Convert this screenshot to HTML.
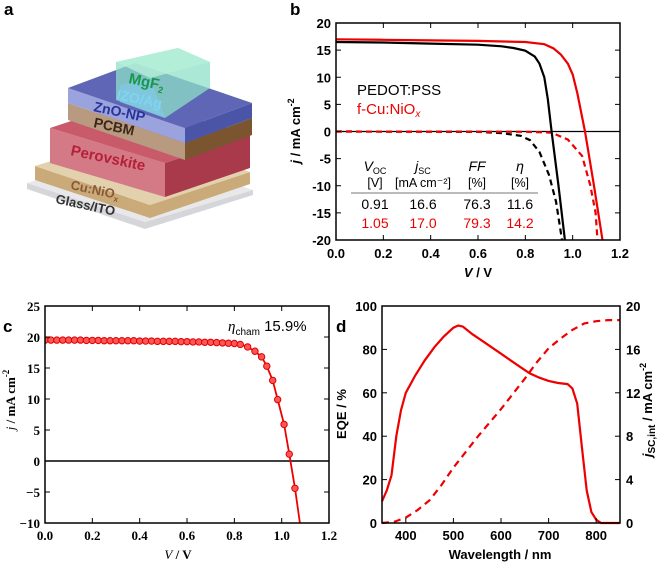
<!DOCTYPE html>
<html><head><meta charset="utf-8"><style>
html,body{margin:0;padding:0;background:#fff;}
svg{display:block;font-family:"Liberation Sans",sans-serif;}
.tk{font-weight:bold;font-size:13px;}
.sf{font-family:"Liberation Serif",serif;font-weight:bold;font-size:13px;}
</style></head><body>
<svg id="fig" width="664" height="566" viewBox="0 0 664 566" xmlns="http://www.w3.org/2000/svg">
<!-- panel labels -->
<text x="4" y="15" font-size="17" font-weight="bold">a</text>
<text x="290" y="15" font-size="17" font-weight="bold">b</text>
<text x="3" y="332" font-size="17" font-weight="bold">c</text>
<text x="336" y="332" font-size="17" font-weight="bold">d</text>

<!-- panel a schematic -->
<g id="schematic">
  <polygon points="27,183 145,222 253,190 253,195 145,229 27,189" fill="#d4d6d9"/>
  <polygon points="27,183 135,150 253,190 145,222" fill="#e8e8ea"/>
  <polygon points="35,166 150,205 250,172 250,184 150,218 35,180" fill="#c9aa78"/>
  <polygon points="35,166 140,134 250,172 150,205" fill="#e3d0ad"/>
  <polygon points="50,128 165,163 165,197 50,163" fill="#d47a86"/>
  <polygon points="165,163 250,135 250,168 165,197" fill="#a83a4c"/>
  <polygon points="50,128 135,100 250,135 165,163" fill="#c85a6a"/>
  <polygon points="68,103 185,143 185,160 68,120" fill="#b89a80"/>
  <polygon points="185,143 252,118 252,135 185,160" fill="#7a5530"/>
  <polygon points="68,88 185,128 185,143 68,103" fill="#9aa3dd"/>
  <polygon points="185,128 252,103 252,118 185,143" fill="#4a55a8"/>
  <polygon points="68,88 135,63 252,103 185,128" fill="#5e66b5"/>
  <polygon points="116,62 178,48 210,62 210,88 165,118 116,100" fill="#8fe0c8" opacity="0.75"/>
  <polygon points="116,62 178,48 210,62 150,78" fill="#b5efd9" opacity="0.8"/>
  <polygon points="120,85 150,78 165,118 120,102" fill="#7fc8e8" opacity="0.7"/>
  <text x="128" y="83" font-size="15" font-weight="bold" fill="#18994a" transform="rotate(12 128 83)">MgF<tspan font-size="9" dy="3">2</tspan></text>
  <text x="116" y="99" font-size="14" font-weight="bold" fill="#7fd4f4" transform="rotate(12 116 99)">IZO/Ag</text>
  <text x="93" y="111" font-size="14" font-weight="bold" fill="#28339a" transform="rotate(12 93 111)">ZnO-NP</text>
  <text x="93" y="127" font-size="14" font-weight="bold" fill="#3a2818" transform="rotate(12 93 127)">PCBM</text>
  <text x="70" y="155" font-size="15" font-weight="bold" fill="#b52038" transform="rotate(12 70 155)">Perovskite</text>
  <text x="70" y="189" font-size="13" font-weight="bold" fill="#8a5a3a" transform="rotate(12 70 189)">Cu:NiO<tspan font-size="8" dy="3">x</tspan></text>
  <text x="55" y="203" font-size="13" font-weight="bold" fill="#333" transform="rotate(12 55 203)">Glass/ITO</text>
</g>

<!-- panel b static text -->
<text x="300" y="131" class="tk" font-size="14" text-anchor="middle" transform="rotate(-90 300 131)"><tspan font-style="italic">j</tspan> / mA cm<tspan font-size="9" dy="-6">-2</tspan></text>
<text x="478" y="277" class="tk" font-size="14" text-anchor="middle"><tspan font-style="italic">V</tspan> / V</text>
<text x="357" y="95" font-size="15" fill="#000">PEDOT:PSS</text>
<text x="357" y="114" font-size="15" fill="#e00">f-Cu:NiO<tspan font-style="italic" font-size="10" dy="3">x</tspan></text>
<g font-size="12.5" text-anchor="middle">
  <text x="375" y="171" font-size="14"><tspan font-style="italic">V</tspan><tspan font-size="9" dy="3">OC</tspan></text>
  <text x="423" y="171" font-size="14"><tspan font-style="italic">j</tspan><tspan font-size="9" dy="3">SC</tspan></text>
  <text x="477" y="171" font-size="14" font-style="italic">FF</text>
  <text x="520" y="171" font-size="14" font-style="italic">η</text>
  <text x="375" y="187">[V]</text>
  <text x="423" y="187">[mA cm⁻²]</text>
  <text x="477" y="187">[%]</text>
  <text x="520" y="187">[%]</text>
  <line x1="351" y1="193" x2="538" y2="193" stroke="#777" stroke-width="1"/>
  <text x="375" y="209" font-size="14">0.91</text><text x="423" y="209" font-size="14">16.6</text><text x="477" y="209" font-size="14">76.3</text><text x="520" y="209" font-size="14">11.6</text>
  <g fill="#e00" font-size="14"><text x="375" y="228">1.05</text><text x="423" y="228">17.0</text><text x="477" y="228">79.3</text><text x="520" y="228">14.2</text></g>
</g>

<!-- panel c static -->
<text x="15" y="400" class="sf" font-size="14" text-anchor="middle" transform="rotate(-90 15 400)"><tspan font-style="italic" font-weight="normal">j</tspan> / mA cm<tspan font-size="9" dy="-6">-2</tspan></text>
<text x="178" y="559" class="sf" font-size="14" text-anchor="middle"><tspan font-style="italic" font-weight="normal">V</tspan> / V</text>
<text x="228" y="331" font-size="15"><tspan font-style="italic" font-family="Liberation Serif">η</tspan><tspan font-size="10" dy="4">cham</tspan><tspan dy="-4"> 15.9%</tspan></text>

<!-- panel d static -->
<text x="346" y="414" class="tk" font-size="15" text-anchor="middle" transform="rotate(-90 346 414)">EQE / %</text>
<text x="652" y="410" class="tk" font-size="15" text-anchor="middle" transform="rotate(-90 652 410)"><tspan font-style="italic">j</tspan><tspan font-size="10" dy="3">SC,int</tspan><tspan dy="-3"> / mA cm</tspan><tspan font-size="9" dy="-6">-2</tspan></text>
<text x="500" y="559" class="tk" font-size="15" text-anchor="middle">Wavelength / nm</text>

<g id="dyn"></g>
</svg>
<script>
// ---- panel b data ----
const bBlackV = [0,0.2,0.4,0.6,0.7,0.75,0.8,0.84,0.86,0.88,0.895,0.911,0.94,0.967];
const bBlackJ = [16.5,16.4,16.2,16.0,15.7,15.4,14.9,13.8,12.5,10,6,0,-10,-20];
const bRedV = [0,0.2,0.4,0.6,0.8,0.88,0.92,0.95,0.98,1.0,1.02,1.052,1.09,1.126];
const bRedJ = [17.0,16.9,16.8,16.7,16.5,16.1,15.3,14.2,12.5,10.5,7,0,-10,-20];
const bBlackDarkV = [0,0.6,0.7,0.78,0.82,0.86,0.9,0.93,0.955];
const bBlackDarkJ = [0,-0.05,-0.3,-0.8,-1.6,-3.8,-8,-13,-20];
const bRedDarkV = [0,0.8,0.91,0.98,1.04,1.075,1.097,1.105];
const bRedDarkJ = [0,-0.05,-0.2,-1.5,-4.5,-10,-15,-20];
const bXTicks = [0,0.2,0.4,0.6,0.8,1.0,1.2];
const bYTicks = [20,15,10,5,0,-5,-10,-15,-20];
// ---- panel c data ----
const cV = [0,0.025,0.05,0.075,0.1,0.125,0.15,0.175,0.2,0.225,0.25,0.275,0.3,0.325,0.35,0.375,0.4,0.425,0.45,0.475,0.5,0.525,0.55,0.575,0.6,0.625,0.65,0.675,0.7,0.725,0.75,0.775,0.8,0.825,0.856,0.887,0.915,0.937,0.962,0.983,1.01,1.032,1.056];
const cJ = [19.5,19.5,19.5,19.5,19.5,19.5,19.5,19.45,19.45,19.45,19.4,19.4,19.4,19.4,19.4,19.4,19.35,19.35,19.35,19.3,19.3,19.3,19.3,19.25,19.25,19.2,19.2,19.15,19.15,19.1,19.05,19.0,18.95,18.8,18.4,17.7,16.8,15.3,13.0,9.9,5.9,1.1,-4.4];
const cLineEndV = [1.056,1.077];
const cLineEndJ = [-4.4,-10];
const cXTicks = [0,0.2,0.4,0.6,0.8,1.0,1.2];
const cYTicks = [25,20,15,10,5,0,-5,-10];
// ---- panel d data ----
const dEqeW = [350,360,370,380,390,400,420,440,460,480,500,510,520,540,560,580,600,620,640,660,680,700,720,740,750,760,770,780,790,800,810,850];
const dEqe = [10,15,22,40,52,60,68,75,81,86,90,91,90.5,87,84,81,78,75,72,69,67,65.5,64.5,64,62,55,35,15,5,1.5,0,0];
const dJscW = [350,375,400,425,450,475,500,525,550,575,600,625,650,675,700,725,750,775,800,825,850];
const dJsc = [0,0.1,0.5,1.2,2.1,3.5,5.1,6.5,7.9,9.2,10.5,11.9,13.3,14.8,16.1,17.0,17.8,18.4,18.6,18.7,18.7];
const dXTicks = [400,500,600,700,800];
const dYTicks = [0,20,40,60,80,100];
const dY2Ticks = [0,4,8,12,16,20];

const NS = "http://www.w3.org/2000/svg";
const root = document.getElementById("dyn");
function mk(tag, a, parent){ const e=document.createElementNS(NS,tag); for(const k in a) e.setAttribute(k,a[k]); (parent||root).appendChild(e); return e; }

// axis functions
const xb = v => 336 + v/1.2*284;
const yb = j => 131.5 - j*5.425;
const xc = v => 45 + v*236.7;
const yc = j => 306 + (25-j)*6.2;
const xd = w => 382 + (w-350)*0.476;
const yd = e => 523 - e*2.17;
const yd2 = j => 523 - j*10.85;

function path(xs, ys, fx, fy){ return xs.map((x,i)=>(i?"L":"M")+fx(x).toFixed(1)+","+fy(ys[i]).toFixed(1)).join(""); }

// ---------- panel b ----------
const cpB = mk("clipPath",{id:"clipB"}); mk("rect",{x:336,y:23,width:284,height:217},cpB);
let e;
e = mk("line",{x1:336,y1:yb(0),x2:620,y2:yb(0),stroke:"#000","stroke-width":1.3});


const gB = mk("g",{"clip-path":"url(#clipB)",fill:"none","stroke-width":2.2});
e = mk("path",{d:path(bBlackDarkV,bBlackDarkJ,xb,yb),stroke:"#000","stroke-dasharray":"6,4"},gB);


e = mk("path",{d:path(bRedDarkV,bRedDarkJ,xb,yb),stroke:"#e00","stroke-dasharray":"6,4"},gB);


e = mk("path",{d:path(bBlackV,bBlackJ,xb,yb),stroke:"#000"},gB);


e = mk("path",{d:path(bRedV,bRedJ,xb,yb),stroke:"#e00"},gB);


e = mk("rect",{x:336,y:23,width:284,height:217,fill:"none",stroke:"#000","stroke-width":1.5});


bXTicks.forEach(v=>{
  mk("line",{x1:xb(v),y1:240,x2:xb(v),y2:235,stroke:"#000"});
  mk("line",{x1:xb(v),y1:23,x2:xb(v),y2:28,stroke:"#000"});
  const t = mk("text",{x:xb(v),y:258,"text-anchor":"middle",class:"tk"}); t.textContent=v.toFixed(1);
  
  
});
bYTicks.forEach(v=>{
  mk("line",{x1:336,y1:yb(v),x2:341,y2:yb(v),stroke:"#000"});
  mk("line",{x1:620,y1:yb(v),x2:615,y2:yb(v),stroke:"#000"});
  const t = mk("text",{x:331,y:yb(v)+5,"text-anchor":"end",class:"tk"}); t.textContent=v;
  
  
});

// ---------- panel c ----------
const cpC = mk("clipPath",{id:"clipC"}); mk("rect",{x:45,y:306,width:284,height:217},cpC);
e = mk("line",{x1:45,y1:yc(0),x2:329,y2:yc(0),stroke:"#000","stroke-width":1.5});


const gC = mk("g",{"clip-path":"url(#clipC)"});
e = mk("path",{d:path(cV,cJ,xc,yc)+path(cLineEndV,cLineEndJ,xc,yc).replace("M","L"),stroke:"#e00","stroke-width":1.8,fill:"none"},gC);


cV.forEach((v,i)=>{
  const c = mk("circle",{cx:xc(v),cy:yc(cJ[i]),r:3.2,fill:"#f55",stroke:"#d00","stroke-width":1},gC);
  
  
});
e = mk("rect",{x:45,y:306,width:284,height:217,fill:"none",stroke:"#000","stroke-width":1.5});


cXTicks.forEach(v=>{
  mk("line",{x1:xc(v),y1:523,x2:xc(v),y2:518,stroke:"#000"});
  mk("line",{x1:xc(v),y1:306,x2:xc(v),y2:311,stroke:"#000"});
  const t = mk("text",{x:xc(v),y:540,"text-anchor":"middle",class:"sf"}); t.textContent=v.toFixed(1);
  
  
});
cYTicks.forEach(v=>{
  mk("line",{x1:45,y1:yc(v),x2:50,y2:yc(v),stroke:"#000"});
  mk("line",{x1:329,y1:yc(v),x2:324,y2:yc(v),stroke:"#000"});
  const t = mk("text",{x:40,y:yc(v)+5,"text-anchor":"end",class:"sf"}); t.textContent=(v<0?"\u2212"+(-v):v);
  
  
});

// ---------- panel d ----------
e = mk("path",{d:path(dEqeW,dEqe,xd,yd),stroke:"#e00","stroke-width":2.2,fill:"none"});


e = mk("path",{d:path(dJscW,dJsc,xd,yd2),stroke:"#e00","stroke-width":2.2,fill:"none","stroke-dasharray":"7,5"});


e = mk("rect",{x:382,y:306,width:238,height:217,fill:"none",stroke:"#000","stroke-width":1.5});


dXTicks.forEach(v=>{
  mk("line",{x1:xd(v),y1:523,x2:xd(v),y2:518,stroke:"#000"});
  const t = mk("text",{x:xd(v),y:540,"text-anchor":"middle",class:"tk"}); t.textContent=v;
  
  
});
dYTicks.forEach(v=>{
  mk("line",{x1:382,y1:yd(v),x2:387,y2:yd(v),stroke:"#000"});
  const t = mk("text",{x:377,y:yd(v)+5,"text-anchor":"end",class:"tk"}); t.textContent=v;
  
  
});
dY2Ticks.forEach(v=>{
  mk("line",{x1:620,y1:yd2(v),x2:615,y2:yd2(v),stroke:"#000"});
  const t = mk("text",{x:626,y:yd2(v)+5,"text-anchor":"start",class:"tk"}); t.textContent=v;
  
  
});
</script>
</body></html>
